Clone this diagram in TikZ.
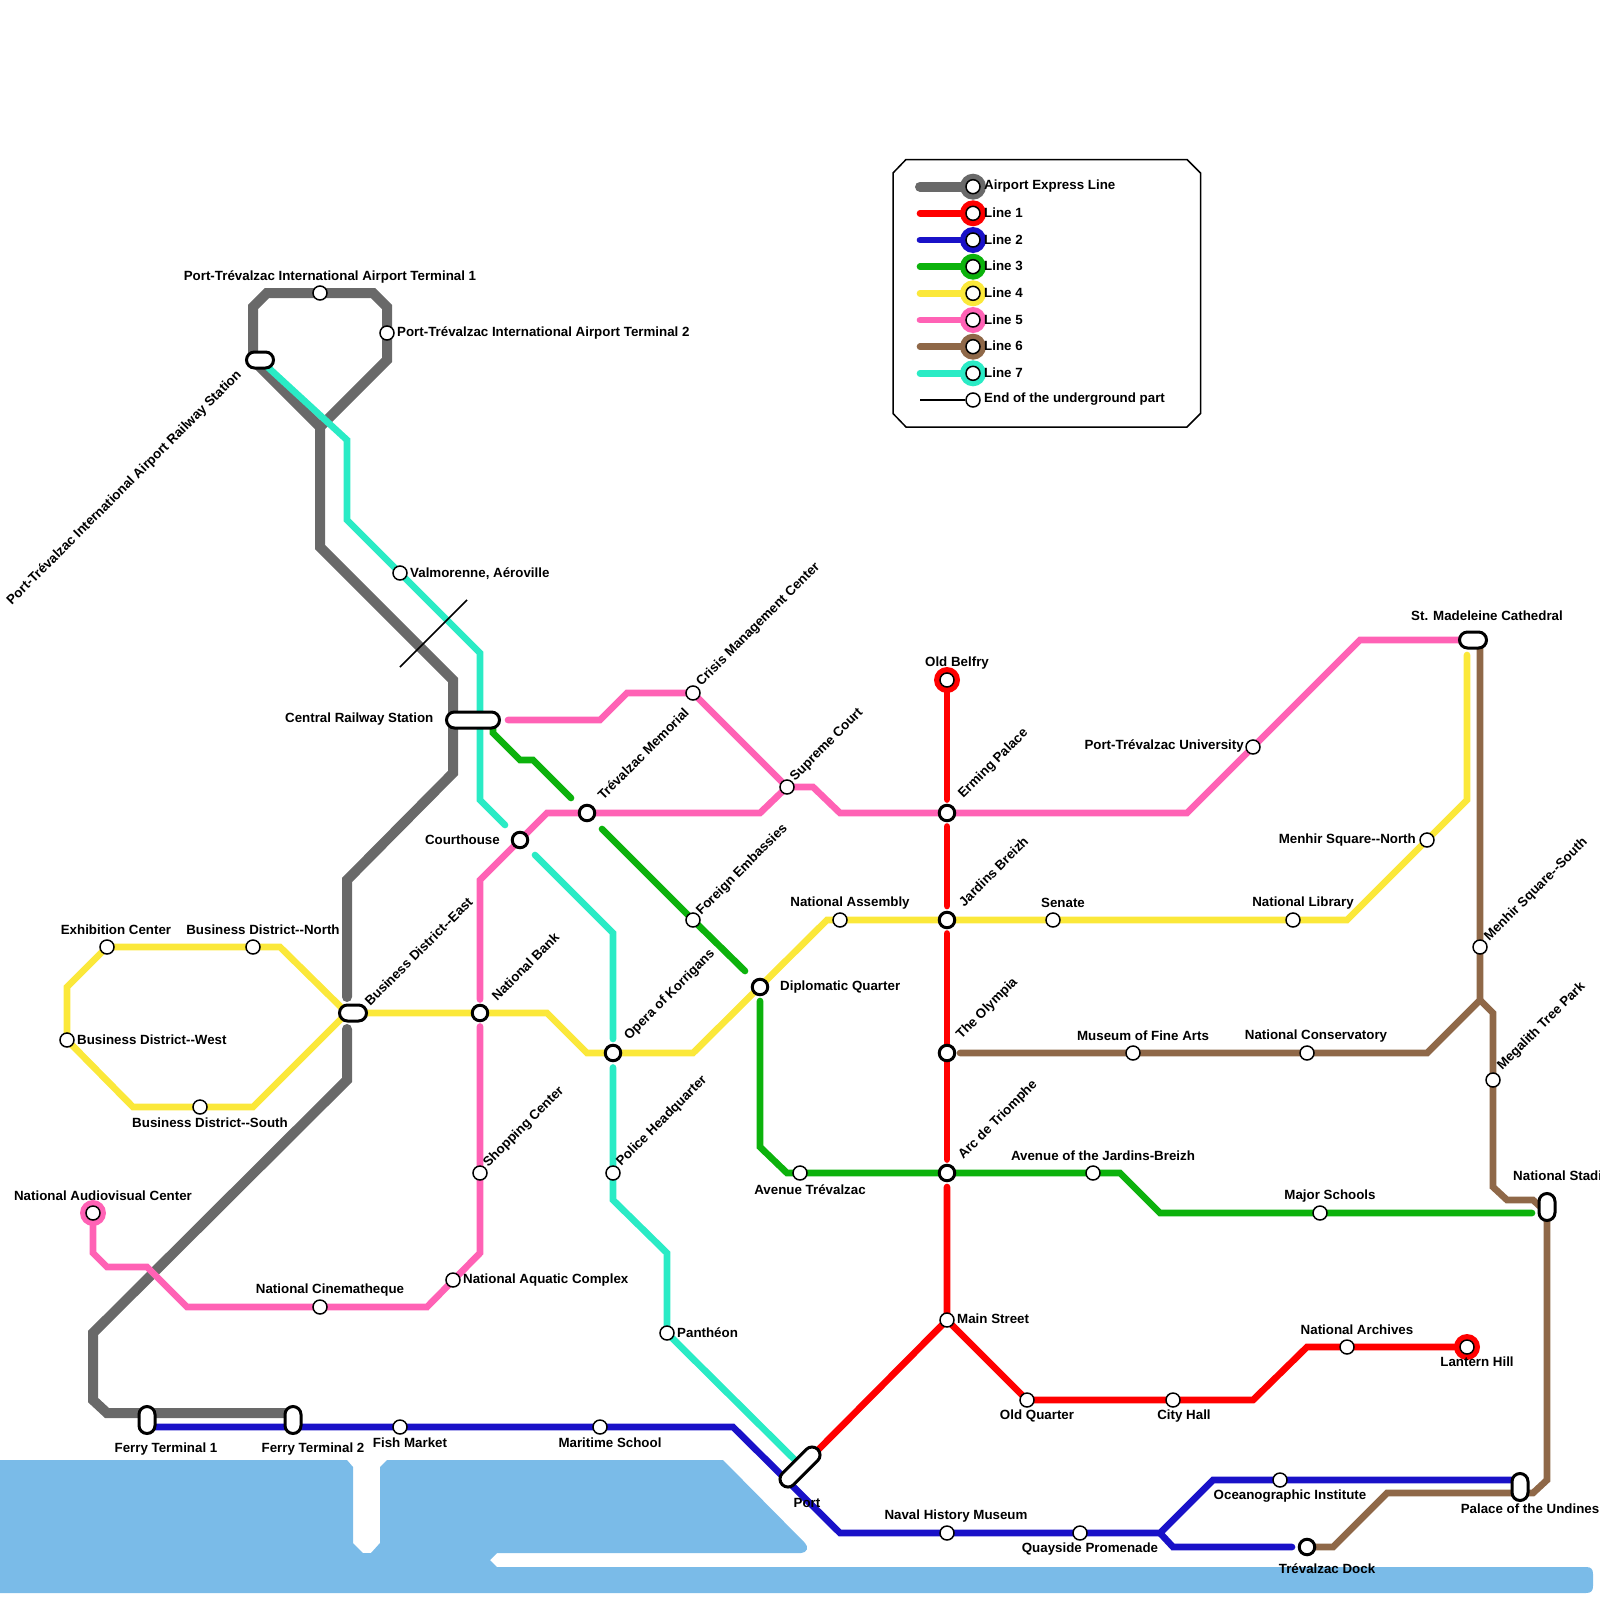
\documentclass[tikz,border=0pt]{standalone}
\usepackage{fontspec}
\usetikzlibrary{shapes.misc}
\setmainfont[Ligatures=NoCommon]{Liberation Sans}
\tikzset{
  x=1pt,y=-1pt,
  metro/.style={line width=6.67pt,line cap=round,miter limit=10},
  grayline/.style={metro,line width=10pt,color=cgray},
  redline/.style={metro,color=cred},
  blueline/.style={metro,color=cblue},
  greenline/.style={metro,color=cgreen},
  yellowline/.style={metro,color=cyellow},
  pinkline/.style={metro,color=cpink},
  brownline/.style={metro,color=cbrown},
  tealline/.style={metro,color=cteal},
  stn/.style={circle,draw=black,fill=white,line width=1.5pt,minimum size=14pt,inner sep=0pt},
  hub/.style={circle,draw=black,fill=white,line width=3pt,minimum size=15.5pt,inner sep=0pt},
  caph/.style={rounded rectangle,draw=black,fill=white,line width=3pt,minimum height=16pt,inner sep=0pt},
  capv/.style={rounded rectangle,rotate=90,draw=black,fill=white,line width=3pt,minimum height=16pt,inner sep=0pt},
  lab/.style={inner sep=0pt,font=\bfseries\fontsize{13.33}{16}\selectfont,text=black},
  rl/.style={lab,rotate=45,anchor=west,xshift=2.5pt},
  ll/.style={lab,anchor=west,yshift=-1pt},
  rr/.style={lab,anchor=east,yshift=-1pt},
  cc/.style={lab,anchor=center,yshift=-1pt},
  legbox/.style={draw=black,line width=1.5pt,fill=white},
}
\definecolor{cgray}{HTML}{696969}
\definecolor{cred}{HTML}{FF0000}
\definecolor{cblue}{HTML}{1911C8}
\definecolor{cgreen}{HTML}{0CB20C}
\definecolor{cyellow}{HTML}{FBE83A}
\definecolor{cpink}{HTML}{FF62B5}
\definecolor{cbrown}{HTML}{8F6848}
\definecolor{cteal}{HTML}{2AEBC5}
\definecolor{cwater}{HTML}{7ABBE8}
\begin{document}
\begin{tikzpicture}
\useasboundingbox (0,0) rectangle (1600,1600);
% water
\fill[cwater] (0,1460) -- (347,1460) -- (353,1467) -- (353,1543) -- (363,1553) -- (371,1553) -- (380,1543) -- (380,1467) -- (387,1460) -- (723,1460) -- (805,1543) .. controls (809,1547) and (807,1553) .. (801,1553) -- (497,1553) -- (490,1560) -- (497,1567) -- (1586,1567) .. controls (1591,1567) and (1593,1569) .. (1593,1574) -- (1593,1586) .. controls (1593,1591) and (1591,1593) .. (1586,1593) -- (0,1593) -- cycle;
% station positions
\coordinate (pT1) at (320,293);
\coordinate (pT2) at (387,333);
\coordinate (pRail) at (260,360);
\coordinate (pVal) at (400,573);
\coordinate (pCentral) at (473,720);
\coordinate (pCrisis) at (693,693);
\coordinate (pMemorial) at (587,813);
\coordinate (pCourt) at (520,840);
\coordinate (pSupreme) at (787,787);
\coordinate (pErming) at (947,813);
\coordinate (pBelfry) at (947,680);
\coordinate (pJardins) at (947,920);
\coordinate (pAssembly) at (840,920);
\coordinate (pSenate) at (1053,920);
\coordinate (pLibrary) at (1293,920);
\coordinate (pUniv) at (1253,747);
\coordinate (pMenN) at (1427,840);
\coordinate (pMenS) at (1480,947);
\coordinate (pMadeleine) at (1473,640);
\coordinate (pEmbassy) at (693,920);
\coordinate (pDiplo) at (760,987);
\coordinate (pBDE) at (353,1013);
\coordinate (pBank) at (480,1013);
\coordinate (pOpera) at (613,1053);
\coordinate (pOlympia) at (947,1053);
\coordinate (pArc) at (947,1173);
\coordinate (pShop) at (480,1173);
\coordinate (pPolice) at (613,1173);
\coordinate (pMega) at (1493,1080);
\coordinate (pStadium) at (1547,1207);
\coordinate (pExhib) at (107,947);
\coordinate (pBDN) at (253,947);
\coordinate (pBDW) at (67,1040);
\coordinate (pBDS) at (200,1107);
\coordinate (pAudio) at (93,1213);
\coordinate (pCine) at (320,1307);
\coordinate (pAqua) at (453,1280);
\coordinate (pPantheon) at (667,1333);
\coordinate (pAveT) at (800,1173);
\coordinate (pAveJ) at (1093,1173);
\coordinate (pFine) at (1133,1053);
\coordinate (pConserv) at (1307,1053);
\coordinate (pMajor) at (1320,1213);
\coordinate (pMain) at (947,1320);
\coordinate (pOldQ) at (1027,1400);
\coordinate (pCity) at (1173,1400);
\coordinate (pArch) at (1347,1347);
\coordinate (pLantern) at (1467,1347);
\coordinate (pF1) at (147,1420);
\coordinate (pF2) at (293,1420);
\coordinate (pFish) at (400,1427);
\coordinate (pMaritime) at (600,1427);
\coordinate (pPort) at (800,1467);
\coordinate (pNaval) at (947,1533);
\coordinate (pQuay) at (1080,1533);
\coordinate (pOcean) at (1280,1480);
\coordinate (pPalace) at (1520,1487);
\coordinate (pDock) at (1307,1547);
% gray line
\draw[grayline] (pF2 |- 0,1413) -- (107,1413) -- (93,1400) -- (93,1333) -- (347,1080) -- (347,1029);
\draw[grayline] (347,997) -- (347,880) -- (453,773) -- (453,680) -- (320,547) -- (320,427) -- (253,360) -- (253,307) -- (267,293) -- (373,293) -- (387,307) -- (387,360) -- (320,427);
% red line
\draw[redline] (pBelfry) -- (947,799.5);
\draw[redline] (947,826.5) -- (947,906);
\draw[redline] (947,933.5) -- (947,1159.5);
\draw[redline] (947,1187) -- (pMain) -- (pOldQ) -- (1253,1400) -- (1307,1347) -- (pLantern);
\draw[redline] (818,1450) -- (pMain);
% blue line
\draw[blueline] (pF1 |- 0,1427) -- (733,1427) -- (840,1533) -- (1160,1533) -- (1213,1480) -- (pPalace |- 0,1480);
\draw[blueline] (1160,1533) -- (1173,1547) -- (1292,1547);
% green line
\draw[greenline] (493,727) -- (493,733) -- (520,760) -- (533,760) -- (571,798);
\draw[greenline] (602,829) -- (pEmbassy) -- (745,971);
\draw[greenline] (pDiplo |- 0,1001) -- (760,1147) -- (787,1173) -- (1120,1173) -- (1160,1213) -- (1532,1213);
% yellow line
\draw[yellowline] (347,1013) -- (547,1013) -- (587,1053) -- (693,1053) -- (827,920) -- (1347,920) -- (1467,800) -- (1467,655);
\draw[yellowline] (347,1013) -- (280,947) -- (107,947) -- (67,987) -- (67,1040) -- (133,1107) -- (253,1107) -- cycle;
% pink line
\draw[pinkline] (pMadeleine) -- (1360,640) -- (1187,813) -- (840,813) -- (813,787) -- (787,787) -- (760,813) -- (547,813) -- (480,880) -- (480,999.5);
\draw[pinkline] (480,1026.5) -- (480,1253) -- (427,1307) -- (187,1307) -- (147,1267) -- (107,1267) -- (93,1253) -- (pAudio);
\draw[pinkline] (508,720) -- (600,720) -- (627,693) -- (693,693) -- (pSupreme);
% brown line
\draw[brownline] (pMadeleine -| 1480,0) -- (1480,1000) -- (1427,1053) -- (960,1053);
\draw[brownline] (1480,1000) -- (1493,1013) -- (1493,1187) -- (1507,1200) -- (1533,1200) -- (1547,1213) -- (1547,1480) -- (1533,1493) -- (1387,1493) -- (1333,1547) -- (pDock);
% teal line
\draw[tealline] (pRail) -- (347,440) -- (347,520) -- (480,653) -- (480,800) -- (505,825);
\draw[tealline] (535,855) -- (613,933) -- (613,1039);
\draw[tealline] (613,1067.5) -- (613,1200) -- (667,1253) -- (667,1333) -- (795,1460);
% underground mark
\coordinate (ua) at (400,667);
\coordinate (ub) at (467,600);
\draw[line width=1.5pt] (ua) -- (ub);
% terminal rings
\fill[cpink] (pAudio) circle (13);
\fill[cred] (pBelfry) circle (13);
\fill[cred] (pLantern) circle (13);
% stations
\node[stn] (T1) at (pT1) {};
\node[stn] (T2) at (pT2) {};
\node[caph,minimum width=27pt] (Rail) at (pRail) {};
\node[stn] (Val) at (pVal) {};
\node[caph,minimum width=53pt] (Central) at (pCentral) {};
\node[stn] (Crisis) at (pCrisis) {};
\node[hub] (Memorial) at (pMemorial) {};
\node[hub] (Court) at (pCourt) {};
\node[stn] (Supreme) at (pSupreme) {};
\node[hub] (Erming) at (pErming) {};
\node[stn] (Belfry) at (pBelfry) {};
\node[hub] (Jardins) at (pJardins) {};
\node[stn] (Assembly) at (pAssembly) {};
\node[stn] (Senate) at (pSenate) {};
\node[stn] (Library) at (pLibrary) {};
\node[stn] (Univ) at (pUniv) {};
\node[stn] (MenN) at (pMenN) {};
\node[stn] (MenS) at (pMenS) {};
\node[caph,minimum width=27pt] (Madeleine) at (pMadeleine) {};
\node[stn] (Embassy) at (pEmbassy) {};
\node[hub] (Diplo) at (pDiplo) {};
\node[caph,minimum width=27pt] (BDE) at (pBDE) {};
\node[hub] (Bank) at (pBank) {};
\node[hub] (Opera) at (pOpera) {};
\node[hub] (Olympia) at (pOlympia) {};
\node[hub] (Arc) at (pArc) {};
\node[stn] (Shop) at (pShop) {};
\node[stn] (Police) at (pPolice) {};
\node[stn] (Mega) at (pMega) {};
\node[capv,minimum width=27pt] (Stadium) at (pStadium) {};
\node[stn] (Exhib) at (pExhib) {};
\node[stn] (BDN) at (pBDN) {};
\node[stn] (BDW) at (pBDW) {};
\node[stn] (BDS) at (pBDS) {};
\node[stn] (Audio) at (pAudio) {};
\node[stn] (Cine) at (pCine) {};
\node[stn] (Aqua) at (pAqua) {};
\node[stn] (Pantheon) at (pPantheon) {};
\node[stn] (AveT) at (pAveT) {};
\node[stn] (AveJ) at (pAveJ) {};
\node[stn] (Fine) at (pFine) {};
\node[stn] (Conserv) at (pConserv) {};
\node[stn] (Major) at (pMajor) {};
\node[stn] (Main) at (pMain) {};
\node[stn] (OldQ) at (pOldQ) {};
\node[stn] (City) at (pCity) {};
\node[stn] (Arch) at (pArch) {};
\node[stn] (Lantern) at (pLantern) {};
\node[capv,minimum width=27pt] (F1) at (pF1) {};
\node[capv,minimum width=27pt] (F2) at (pF2) {};
\node[stn] (Fish) at (pFish) {};
\node[stn] (Maritime) at (pMaritime) {};
\node[caph,minimum width=50pt,rotate=45] (Port) at (pPort) {};
\node[stn] (Naval) at (pNaval) {};
\node[stn] (Quay) at (pQuay) {};
\node[stn] (Ocean) at (pOcean) {};
\node[capv,minimum width=27pt] (Palace) at (pPalace) {};
\node[hub] (Dock) at (pDock) {};
% labels
\node[cc] (tT1) at (330,275.5) {Port-Trévalzac International Airport Terminal 1};
\node[ll] (tT2) at (397,332) {Port-Trévalzac International Airport Terminal 2};
\node[lab,rotate=45,anchor=east] (tRail) at (239.5,373) {Port-Trévalzac International Airport Railway Station};
\node[ll] (tVal) at (410,572.5) {Valmorenne, Aéroville};
\node[rr] (tCentral) at (433.5,718) {Central Railway Station};
\node[rl] (tCrisis) at (697,686) {Crisis Management Center};
\node[rl] (tMemorial) at (598,799) {Trévalzac Memorial};
\node[rl] (tSupreme) at (791,781) {Supreme Court};
\node[rl] (tErming) at (959,798) {Erming Palace};
\node[cc] (tBelfry) at (957,662) {Old Belfry};
\node[rl] (tJardins) at (959,906) {Jardins Breizh};
\node[cc] (tAssembly) at (850,902) {National Assembly};
\node[cc] (tSenate) at (1063,902) {Senate};
\node[cc] (tLibrary) at (1303,902) {National Library};
\node[rr] (tUniv) at (1244,745) {Port-Trévalzac University};
\node[rr] (tMenN) at (1416,839) {Menhir Square-{}-North};
\node[rl] (tMenS) at (1485,941) {Menhir Square-{}-South};
\node[cc] (tMadeleine) at (1487,615) {St. Madeleine Cathedral};
\node[rr] (tCourt) at (500,838.5) {Courthouse};
\node[rl] (tEmbassy) at (697,915) {Foreign Embassies};
\node[ll] (tDiplo) at (780,986) {Diplomatic Quarter};
\node[rl] (tBDE) at (365,1005) {Business District-{}-East};
\node[rl] (tBank) at (492,1000) {National Bank};
\node[rl] (tOpera) at (625,1040) {Opera of Korrigans};
\node[rl] (tOlympia) at (957,1039) {The Olympia};
\node[rl] (tArc) at (959,1159) {Arc de Triomphe};
\node[rl] (tShop) at (484,1167) {Shopping Center};
\node[rl] (tPolice) at (617,1166) {Police Headquarter};
\node[rl] (tMega) at (1498,1070) {Megalith Tree Park};
\node[ll] (tStadium) at (1513,1175) {National Stadium};
\node[cc] (tExhib) at (116,929) {Exhibition Center};
\node[cc] (tBDN) at (263,929) {Business District-{}-North};
\node[ll] (tBDW) at (77,1039) {Business District-{}-West};
\node[cc] (tBDS) at (210,1122) {Business District-{}-South};
\node[cc] (tAudio) at (103,1195) {National Audiovisual Center};
\node[cc] (tCine) at (330,1289) {National Cinematheque};
\node[ll] (tAqua) at (463,1279) {National Aquatic Complex};
\node[ll] (tPantheon) at (677,1332) {Panthéon};
\node[cc] (tAveT) at (810,1189) {Avenue Trévalzac};
\node[cc] (tAveJ) at (1103,1155) {Avenue of the Jardins-Breizh};
\node[cc] (tFine) at (1143,1035) {Museum of Fine Arts};
\node[cc] (tConserv) at (1316,1035) {National Conservatory};
\node[cc] (tMajor) at (1330,1195) {Major Schools};
\node[ll] (tMain) at (957,1318) {Main Street};
\node[cc] (tOldQ) at (1037,1415) {Old Quarter};
\node[cc] (tCity) at (1184,1415) {City Hall};
\node[cc] (tArch) at (1357,1329) {National Archives};
\node[cc] (tLantern) at (1477,1361) {Lantern Hill};
\node[cc] (tF1) at (166,1448.5) {Ferry Terminal 1};
\node[cc] (tF2) at (313,1448.5) {Ferry Terminal 2};
\node[cc] (tFish) at (410,1442) {Fish Market};
\node[cc] (tMaritime) at (610,1442) {Maritime School};
\node[cc] (tPort) at (807,1502) {Port};
\node[cc] (tNaval) at (956,1515) {Naval History Museum};
\node[cc] (tQuay) at (1090,1548) {Quayside Promenade};
\node[cc] (tOcean) at (1290,1495) {Oceanographic Institute};
\node[cc] (tPalace) at (1530,1508) {Palace of the Undines};
\node[cc] (tDock) at (1327,1568) {Trévalzac Dock};
% legend
\draw[legbox] (906,159.5) -- (1187,159.5) -- (1200.5,173) -- (1200.5,413.5) -- (1187,427) -- (906,427) -- (893,413.5) -- (893,173) -- cycle;
\foreach \yy/\cc/\ww/\tt/\nn in {186.7/cgray/10/Airport Express Line/a,213.3/cred/6.67/Line 1/b,240/cblue/6.67/Line 2/c,266.7/cgreen/6.67/Line 3/d,293.3/cyellow/6.67/Line 4/e,320/cpink/6.67/Line 5/f,346.7/cbrown/6.67/Line 6/g,373.3/cteal/6.67/Line 7/h}{
  \coordinate (legp\nn) at (973,\yy);
  \coordinate (legs\nn) at (920,\yy);
  \draw[metro,color=\cc,line width=\ww pt] (legs\nn) -- (legp\nn);
  \fill[\cc] (legp\nn) circle (13);
  \node[stn] (leg\nn) at (legp\nn) {};
  \node[ll] (legt\nn) at (984,\yy-1.7) {\tt};
}
\coordinate (legsu) at (920,400);
\node[stn] (legu) at (973,400) {};
\draw[line width=1.5pt] (legsu) -- (legu);
\node[ll] (legtu) at (984,398.3) {End of the underground part};
\end{tikzpicture}
\end{document}
